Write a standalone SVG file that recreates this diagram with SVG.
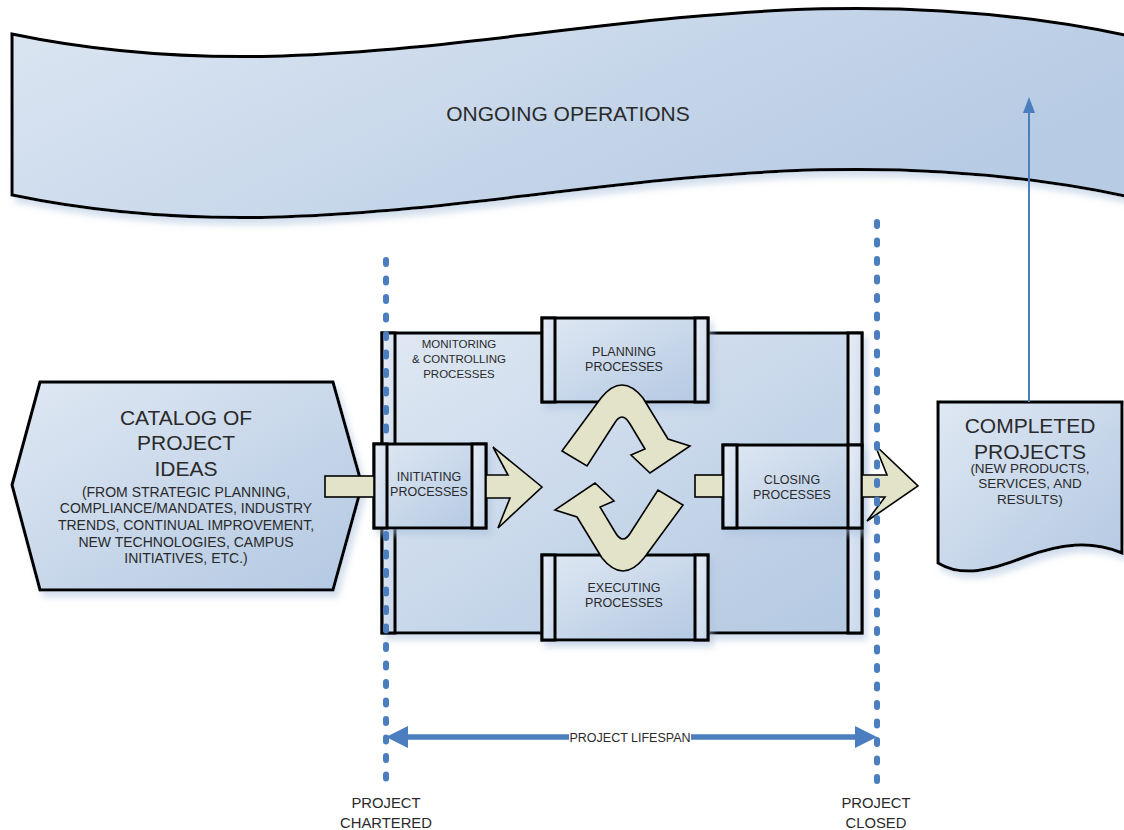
<svg xmlns="http://www.w3.org/2000/svg" width="1124" height="830" viewBox="0 0 1124 830">
<defs>
<linearGradient id="gBlue" x1="0" y1="0" x2="1" y2="1">
<stop offset="0" stop-color="#dfe8f3"/><stop offset="1" stop-color="#b3c8e2"/>
</linearGradient>
<linearGradient id="gBand" x1="0" y1="0" x2="1" y2="1">
<stop offset="0" stop-color="#e8eef7"/><stop offset="1" stop-color="#c6d6ea"/>
</linearGradient>
<linearGradient id="gWave" x1="0" y1="0" x2="1" y2="0.4">
<stop offset="0" stop-color="#dce6f2"/><stop offset="1" stop-color="#b7cbe4"/>
</linearGradient>
<filter id="shadow" x="-10%" y="-10%" width="130%" height="140%">
<feDropShadow dx="4" dy="6" stdDeviation="3" flood-color="#a9bfdc" flood-opacity="0.5"/>
</filter>
<style>
.box{fill:url(#gBlue);stroke:#000;stroke-width:3}
.band{fill:url(#gBand);stroke:#000;stroke-width:3}
.t{font-family:"Liberation Sans",Arial,sans-serif;fill:#2a2a2a;text-anchor:middle}
.beige{fill:#e2e3c9;stroke:#000;stroke-width:1.6;stroke-linejoin:miter}
.dots{stroke:#4a7ebf;stroke-width:6;stroke-linecap:round;stroke-dasharray:4 14.5;fill:none}
.blue{fill:#4a7ebf}
</style>
</defs>
<rect width="1124" height="830" fill="#fff"/>

<g id="ongoing-operations">
<path d="M12,34 C400,115 700,-55 1130,36 L1130,197 C700,106 400,276 12,195 Z" fill="url(#gWave)" stroke="#000" stroke-width="3" filter="url(#shadow)"/>
<text class="t" x="568" y="121" font-size="21">ONGOING OPERATIONS</text>
</g>

<g id="catalog">
<polygon points="40,382 333,382 362,485 333,590 40,590 12,485" class="box" filter="url(#shadow)"/>
<text class="t" font-size="21"><tspan x="186" y="425">CATALOG OF</tspan><tspan x="186" y="450">PROJECT</tspan><tspan x="186" y="476">IDEAS</tspan></text>
<text class="t" font-size="14"><tspan x="186" y="497">(FROM STRATEGIC PLANNING,</tspan><tspan x="186" y="513">COMPLIANCE/MANDATES, INDUSTRY</tspan><tspan x="186" y="530">TRENDS, CONTINUAL IMPROVEMENT,</tspan><tspan x="186" y="547">NEW TECHNOLOGIES, CAMPUS</tspan><tspan x="186" y="563">INITIATIVES, ETC.)</tspan></text>
</g>

<g id="monitoring-controlling">
<rect x="382" y="333" width="480" height="300" class="box" filter="url(#shadow)"/>
<rect x="382" y="333" width="13" height="300" class="band"/>
<rect x="848" y="333" width="14" height="300" class="band"/>
<text class="t" font-size="11.5"><tspan x="459" y="348">MONITORING</tspan><tspan x="459" y="363">&amp; CONTROLLING</tspan><tspan x="459" y="378">PROCESSES</tspan></text>
</g>

<g id="planning">
<rect x="542" y="318" width="166" height="84" class="box" filter="url(#shadow)"/>
<rect x="542" y="318" width="13" height="84" class="band"/>
<rect x="695" y="318" width="13" height="84" class="band"/>
<text class="t" font-size="12.5"><tspan x="624" y="356">PLANNING</tspan><tspan x="624" y="371">PROCESSES</tspan></text>
</g>

<g id="executing">
<rect x="542" y="555" width="166" height="85" class="box" filter="url(#shadow)"/>
<rect x="542" y="555" width="13" height="85" class="band"/>
<rect x="695" y="555" width="13" height="85" class="band"/>
<text class="t" font-size="12.5"><tspan x="624" y="592">EXECUTING</tspan><tspan x="624" y="607">PROCESSES</tspan></text>
</g>

<g id="initiating">
<rect x="374" y="444" width="112" height="84" class="box" filter="url(#shadow)"/>
<rect x="374" y="444" width="13" height="84" class="band"/>
<rect x="472" y="444" width="14" height="84" class="band"/>
<text class="t" font-size="12.5"><tspan x="429" y="481">INITIATING</tspan><tspan x="429" y="496">PROCESSES</tspan></text>
</g>

<g id="closing">
<rect x="723" y="445" width="139" height="83" class="box" filter="url(#shadow)"/>
<rect x="723" y="445" width="14" height="83" class="band"/>
<rect x="848" y="445" width="14" height="83" class="band"/>
<text class="t" font-size="12.5"><tspan x="792" y="484">CLOSING</tspan><tspan x="792" y="499">PROCESSES</tspan></text>
</g>

<g id="completed">
<path d="M938,402 H1122 V553 C1090,540 1060,544 1025,557 C992,570 962,578 938,563 Z" class="box" filter="url(#shadow)"/>
<text class="t" font-size="21"><tspan x="1030" y="433">COMPLETED</tspan><tspan x="1030" y="459">PROJECTS</tspan></text>
<text class="t" font-size="13.5"><tspan x="1030" y="473">(NEW PRODUCTS,</tspan><tspan x="1030" y="488">SERVICES, AND</tspan><tspan x="1030" y="504">RESULTS)</tspan></text>
</g>

<g id="connectors">
<rect x="325" y="476" width="49" height="21" class="beige"/>
<polygon points="486,475 508,475 493,447 542,487 498,528 510,498 486,498" class="beige"/>
<rect x="695" y="475" width="28" height="22" class="beige"/>
<polygon points="862,475 887,475 875,445 918,486 867,521 885,497 862,497" class="beige"/>
<path id="loop-top" d="M562,451 L601,398 Q622,372 643,398 L668,439 L690,446 L650,473 L631,455 L645,449 L630,424 Q622,410 614,424 L587,466 Z" class="beige"/>
<path id="loop-bottom" d="M562,451 L601,398 Q622,372 643,398 L668,439 L690,446 L650,473 L631,455 L645,449 L630,424 Q622,410 614,424 L587,466 Z" class="beige" transform="rotate(180 622.5 478)"/>
<line x1="386" y1="260" x2="386" y2="440" class="dots"/>
<line x1="386" y1="534" x2="386" y2="780" class="dots"/>
<line x1="877" y1="222" x2="877" y2="792" class="dots"/>
<line x1="1029" y1="402" x2="1029" y2="110" stroke="#4a7ebf" stroke-width="2"/>
<polygon points="1029,97 1023,113 1035,113" class="blue"/>
<line x1="402" y1="737" x2="860" y2="737" stroke="#4a7ebf" stroke-width="5.5"/>
<polygon points="386,737 408,726 408,748" class="blue"/>
<polygon points="877,737 855,726 855,748" class="blue"/>
<rect x="569" y="730" width="122" height="14" fill="#fff"/>
<text class="t" x="630" y="741.5" font-size="12.5">PROJECT LIFESPAN</text>
</g>

<g id="milestones">
<text class="t" font-size="14.8"><tspan x="386" y="808">PROJECT</tspan><tspan x="386" y="828">CHARTERED</tspan></text>
<text class="t" font-size="14.8"><tspan x="876" y="808">PROJECT</tspan><tspan x="876" y="828">CLOSED</tspan></text>
</g>
</svg>
